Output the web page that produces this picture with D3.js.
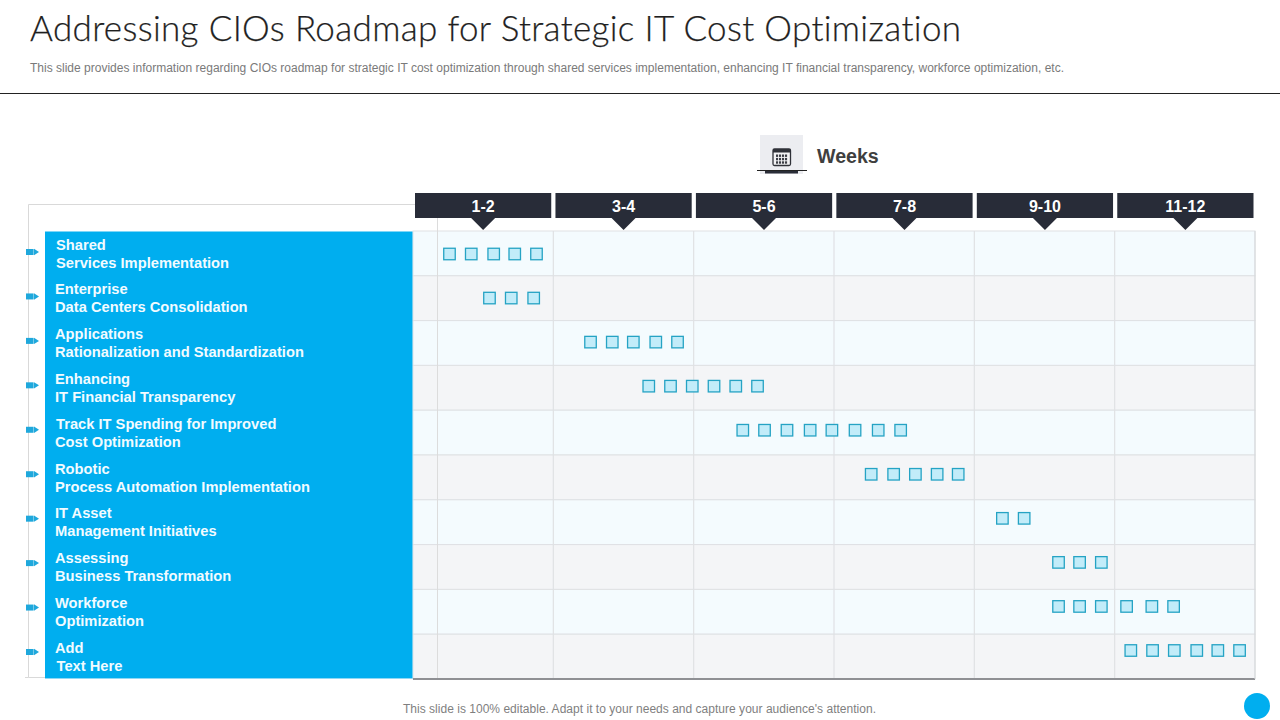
<!DOCTYPE html>
<html><head><meta charset="utf-8">
<script src="https://cdn.jsdelivr.net/npm/d3@7"></script>
<style>html,body{margin:0;padding:0;background:#fff;overflow:hidden}svg{display:block}text{font-family:"Liberation Sans",Arial,sans-serif}</style>
</head><body><svg id="c" width="1280" height="720"></svg>
<script>
const periods=["1-2","3-4","5-6","7-8","9-10","11-12"];
const tasks=[["Shared","Services Implementation"],["Enterprise","Data Centers Consolidation"],["Applications","Rationalization and Standardization"],["Enhancing","IT Financial Transparency"],["Track IT Spending for Improved","Cost Optimization"],["Robotic","Process Automation Implementation"],["IT Asset","Management Initiatives"],["Assessing","Business Transformation"],["Workforce","Optimization"],["Add","Text Here"]];
const weekMarks=[[0.52,0.83,1.15,1.45,1.76],[1.09,1.40,1.72],[2.53,2.84,3.14,3.46,3.77],[3.36,3.67,3.98,4.29,4.60,4.91],[4.70,5.01,5.33,5.66,5.97,6.30,6.63,6.95],[6.53,6.85,7.16,7.47,7.77],[8.40,8.71],[9.20,9.50,9.81],[9.20,9.50,9.81,10.17,10.53,10.84],[10.23,10.54,10.85,11.17,11.47,11.78]];
const weekTicks=[2,4,6,8,10];

const svg=d3.select("#c");
const x=d3.scaleLinear().domain([0,12]).range([413,1255]);
const rowIdx=d3.range(tasks.length);
const yBand=d3.scaleBand().domain(rowIdx).range([231,679]);
const yMark=d3.scalePoint().domain(rowIdx).range([254,650.5]);
const yArrow=d3.scalePoint().domain(rowIdx).range([252,652]);
const head=d3.scaleBand().domain(periods).range([415,1253.5]).paddingInner(0.03);
const labelNudge={"Shared":1,"Services Implementation":1,"Track IT Spending for Improved":1,"Text Here":1.5};

svg.append("text").attr("x",30).attr("y",41).attr("font-size",35).attr("fill","#1f1f1f")
  .style("font-family","Lato").style("font-weight",300).style("font-variant-ligatures","none")
  .attr("stroke","#1f1f1f").attr("stroke-width",0.25).attr("textLength",931).attr("lengthAdjust","spacing")
  .text("Addressing CIOs Roadmap for Strategic IT Cost Optimization");
svg.append("text").attr("x",30).attr("y",72).attr("font-size",12).attr("fill","#7a7a7a").attr("textLength",1034)
  .text("This slide provides information regarding CIOs roadmap for strategic IT cost optimization through shared services implementation, enhancing IT financial transparency, workforce optimization, etc.");
svg.append("line").attr("x1",0).attr("x2",1280).attr("y1",93.5).attr("y2",93.5).attr("stroke","#222");

// Weeks icon
const ic=svg.append("g");
ic.append("rect").attr("x",760).attr("y",135).attr("width",43).attr("height",39).attr("fill","#ecedf1");
ic.append("line").attr("x1",757).attr("x2",807).attr("y1",170.5).attr("y2",170.5).attr("stroke","#222");
ic.append("rect").attr("x",765).attr("y",171).attr("width",33).attr("height",2.5).attr("fill","#2a2d38");
ic.append("rect").attr("x",773).attr("y",149).attr("width",17.5).attr("height",16.5).attr("rx",1.5).attr("fill","#f3f3f5").attr("stroke","#2f3138").attr("stroke-width",1.3);
ic.append("rect").attr("x",773).attr("y",149).attr("width",17.5).attr("height",3.5).attr("fill","#2f3138");
ic.selectAll(".g").data(d3.cross(d3.range(4),d3.range(3))).join("rect").attr("x",d=>776+d[0]*3).attr("y",d=>154.5+d[1]*3.4).attr("width",2.1).attr("height",2.4).attr("fill","#3a3c44");
svg.append("text").attr("x",817).attr("y",163).attr("font-size",19.6).attr("font-weight",700).attr("fill","#3f3f3f").text("Weeks");

// outer frame
svg.append("path").attr("d","M415 204.5H28.5V677.5H25M28.5 677.5H45").attr("fill","none").attr("stroke","#d9d9d9");

// rows
svg.selectAll(".row").data(rowIdx).join("rect").attr("x",x(0)).attr("y",d=>yBand(d)).attr("width",x(12)-x(0)).attr("height",yBand.bandwidth())
  .attr("fill",d=>d%2?"#f4f5f7":"#f4fbfe").attr("stroke","#dfe1e4").attr("stroke-width",1);
svg.selectAll(".vt").data(weekTicks).join("line").attr("x1",d=>x(d)).attr("x2",d=>x(d)).attr("y1",231).attr("y2",679).attr("stroke","#dfe1e4").attr("stroke-width",1.2);
svg.append("line").attr("x1",437.5).attr("x2",437.5).attr("y1",204).attr("y2",679).attr("stroke","#dcdcdc");
svg.append("line").attr("x1",x(0)).attr("x2",x(12)).attr("y1",679).attr("y2",679).attr("stroke","#8f9094").attr("stroke-width",2);
svg.append("line").attr("x1",x(12)).attr("x2",x(12)).attr("y1",231).attr("y2",679).attr("stroke","#d5d7da");

// headers
const h=svg.selectAll(".h").data(periods).join("g");
h.append("rect").attr("x",d=>head(d)).attr("y",193).attr("width",head.bandwidth()).attr("height",25).attr("fill","#282c38");
h.append("path").attr("d",d=>{const c=head(d)+head.bandwidth()/2;return `M${c-12} 218H${c+12}L${c} 230Z`}).attr("fill","#282c38");
h.append("text").attr("x",d=>head(d)+head.bandwidth()/2).attr("y",212).attr("text-anchor","middle").attr("font-size",16).attr("font-weight",700).attr("fill","#fff").text(d=>d);

// label panel
svg.append("rect").attr("x",45).attr("y",231.5).attr("width",367.5).attr("height",447).attr("fill","#00aeef");
svg.append("line").attr("x1",45).attr("x2",412.5).attr("y1",678.5).attr("y2",678.5).attr("stroke","#8fd8f5");
const lab=svg.selectAll(".l").data(tasks).join("g");
lab.each(function(d,i){
  d3.select(this).selectAll("text").data(d).join("text").attr("x",t=>55+(labelNudge[t]||0)).attr("y",(t,j)=>yBand(i)+18.6+j*18)
   .attr("font-size",14.7).attr("font-weight",700).attr("fill","#f2fbff").text(t=>t);
});

// arrows
const ar=svg.selectAll(".a").data(rowIdx).join("g").attr("transform",d=>`translate(0,${yArrow(d)})`);
ar.append("rect").attr("x",26).attr("y",-3).attr("width",7.6).attr("height",6).attr("fill","#1fa8dc");
ar.append("path").attr("d","M34 -3.2L39 0L34 3.2Z").attr("fill","#1fa8dc");

// marks
const flat=weekMarks.flatMap((r,i)=>r.map(w=>({i,w})));
svg.selectAll(".m").data(flat).join("rect").attr("x",d=>x(d.w)-5.75).attr("y",d=>yMark(d.i)-5.75).attr("width",11.5).attr("height",11.5)
  .attr("fill","#c2ecf9").attr("stroke","#25a3c4").attr("stroke-width",1.3);

// footer
svg.append("text").attr("x",403).attr("y",713).attr("font-size",12).attr("fill","#7f7f7f").attr("textLength",473).text("This slide is 100% editable. Adapt it to your needs and capture your audience's attention.");
svg.append("circle").attr("cx",1257).attr("cy",706).attr("r",13).attr("fill","#00aeef");
</script></body></html>
